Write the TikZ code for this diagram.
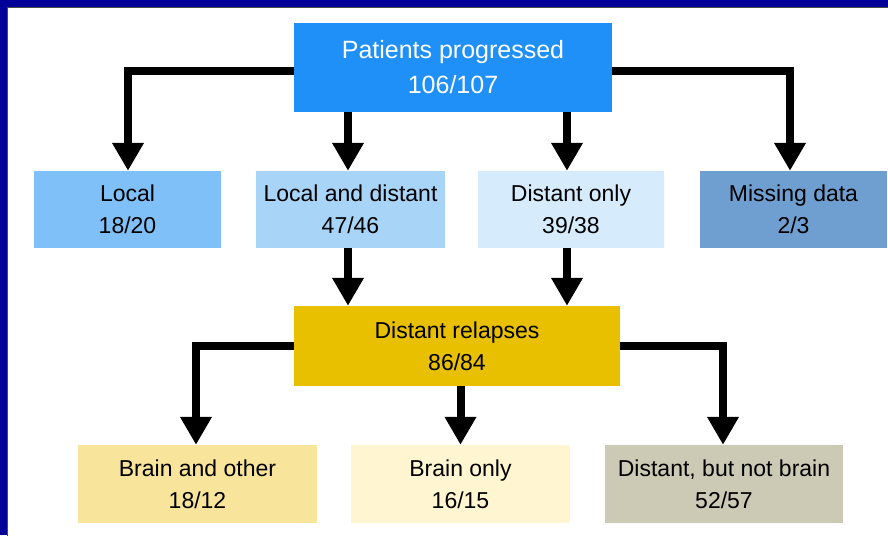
\documentclass[tikz,border=0pt]{standalone}
\usepackage{fontspec}
\setmainfont{Liberation Sans}
\usetikzlibrary{arrows.meta}
\definecolor{frameblue}{HTML}{000099}
\definecolor{progblue}{HTML}{1E90F8}
\definecolor{localblue}{HTML}{80C0F8}
\definecolor{bothblue}{HTML}{A8D4F8}
\definecolor{distblue}{HTML}{D6ECFC}
\definecolor{missblue}{HTML}{6E9FD0}
\definecolor{relapsegold}{HTML}{E8C000}
\definecolor{otheryellow}{HTML}{F8E49A}
\definecolor{onlyyellow}{HTML}{FFF5D0}
\definecolor{notbraingrey}{HTML}{CCC9B5}

\begin{document}
\begin{tikzpicture}[
            x=1pt, y=-1pt,
            every node/.style={align=center, inner sep=0pt,
                font=\fontsize{23}{32}\selectfont},
            box/.style={minimum width=#1, minimum height=77pt},
            flow/.style={line width=8pt, -{Triangle[width=30pt,length=28pt]}}]
            % frame
            \useasboundingbox (0,0) rectangle (888,535);
            \clip (0,0) rectangle (888,535);
            \fill[frameblue] (0,0) rectangle (888,535);
            \fill[white, draw=black!70, line width=0.8pt] (7,7) rectangle (895,545);
            % boxes
            \node[fill=progblue, text=white, minimum width=318pt, minimum height=89pt,
                font=\fontsize{25}{35}\selectfont] (prog) at (453,67.5)
                {Patients progressed\\106/107};
            \node[box=187pt, fill=localblue] (local) at (127.5,209.5) {Local\\18/20};
            \node[box=189pt, fill=bothblue] (both) at (350.5,209.5) {Local and distant\\47/46};
            \node[box=186pt, fill=distblue] (dist) at (571,209.5) {Distant only\\39/38};
            \node[box=187pt, fill=missblue] (miss) at (793.5,209.5) {Missing data\\2/3};
            \node[box=326pt, minimum height=80pt, fill=relapsegold] (relapse) at (457,346)
                {Distant relapses\\86/84};
            \node[box=239pt, minimum height=78pt, fill=otheryellow] (brainother) at (197.5,484)
                {Brain and other\\18/12};
            \node[box=219pt, minimum height=78pt, fill=onlyyellow] (brainonly) at (460.5,484)
                {Brain only\\16/15};
            \node[box=238pt, minimum height=78pt, fill=notbraingrey] (notbrain) at (724,484)
                {Distant, but not brain\\52/57};
            % connectors
            \draw[flow] ([yshift=-3.5pt]prog.west) -| ([xshift=0.5pt]local.north);
            \draw[flow] ([xshift=-2.5pt]prog.south -| both.north) -- ([xshift=-2.5pt]both.north);
            \draw[flow] ([xshift=-4pt]prog.south -| dist.north) -- ([xshift=-4pt]dist.north);
            \draw[flow] ([yshift=-3.5pt]prog.east) -| ([xshift=-3.5pt]miss.north);
            \draw[flow] ([xshift=-2.5pt]both.south) -- ([xshift=-2.5pt]both.south |- relapse.north);
            \draw[flow] ([xshift=-4pt]dist.south) -- ([xshift=-4pt]dist.south |- relapse.north);
            \draw[flow] (relapse.west) -| ([xshift=-1.5pt]brainother.north);
            \draw[flow] (relapse.south -| brainonly.north) -- (brainonly.north);
            \draw[flow] (relapse.east) -| ([xshift=-1pt]notbrain.north);
\end{tikzpicture}
\end{document}
